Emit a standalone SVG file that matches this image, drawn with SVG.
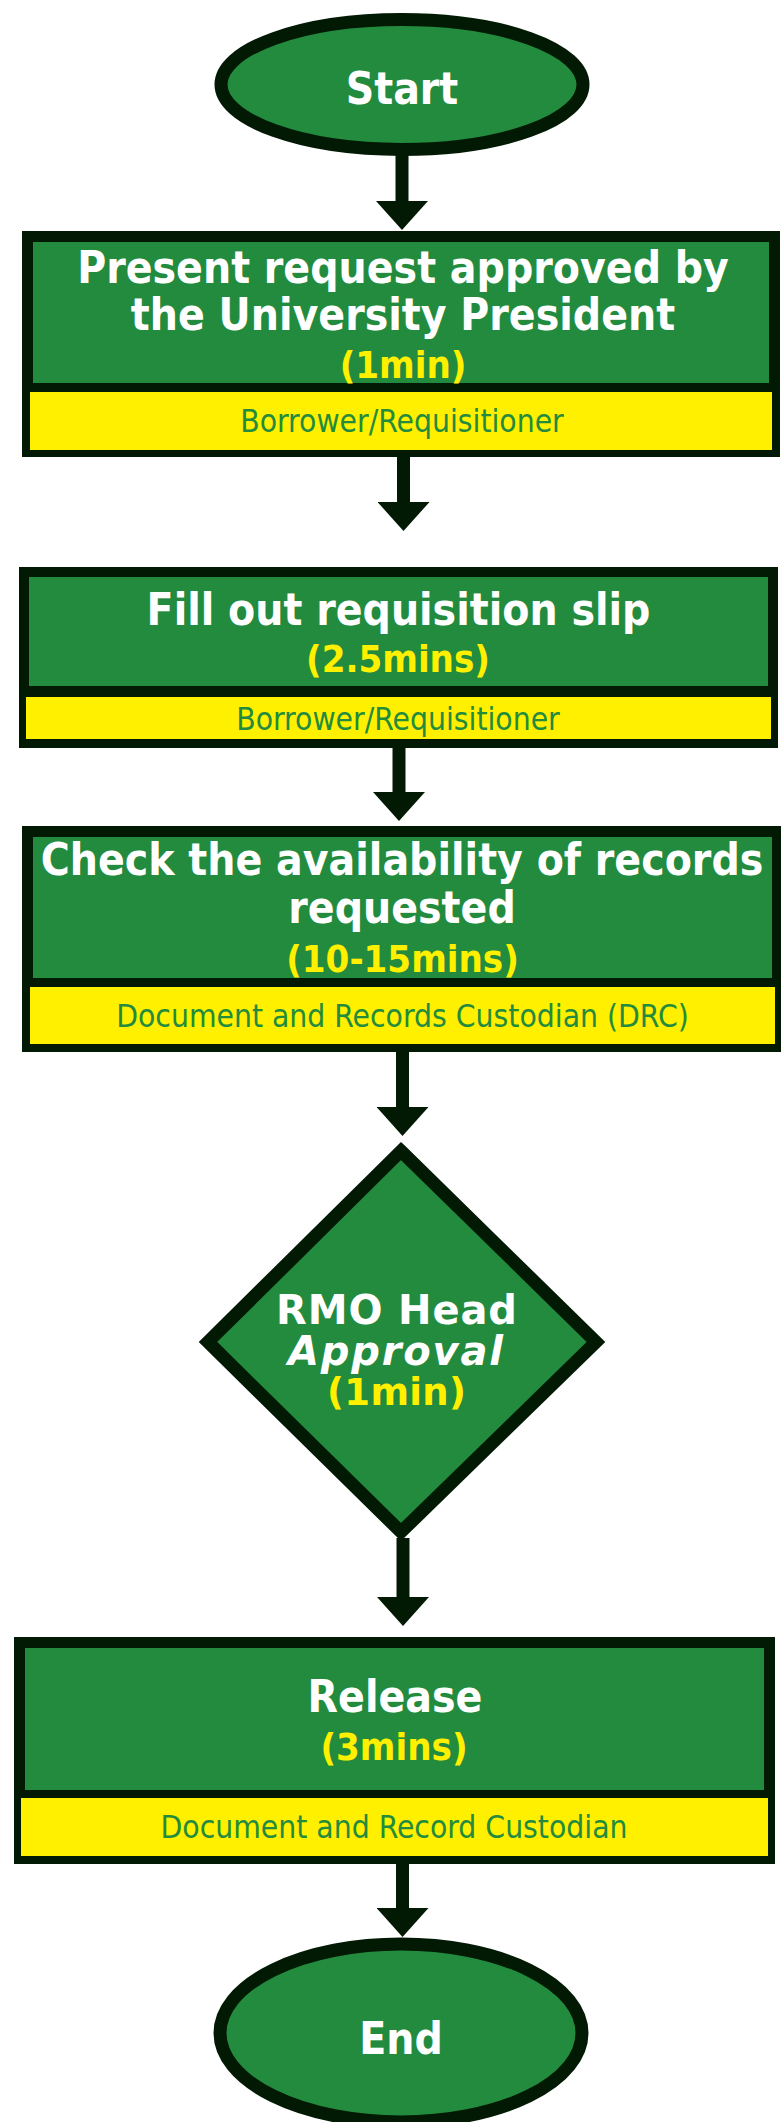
<svg xmlns="http://www.w3.org/2000/svg" width="781" height="2122" viewBox="0 0 781 2122">
<style>
.dark{fill:#021A04}
.grn{fill:#238B3E}
.yel{fill:#FFF000}
.term{fill:#238B3E;stroke:#021A04;stroke-width:13}
.dia{fill:#238B3E;stroke:#021A04;stroke-width:13;stroke-linejoin:miter}
.title{font-family:"DejaVu Sans Condensed","DejaVu Sans",sans-serif;font-stretch:condensed;font-weight:bold;font-size:44px;fill:#FFFFFF;text-anchor:middle}
.time{font-family:"DejaVu Sans Condensed","DejaVu Sans",sans-serif;font-stretch:condensed;font-weight:bold;font-size:38px;fill:#FFF000;text-anchor:middle}
.role{font-family:"DejaVu Sans Condensed","DejaVu Sans",sans-serif;font-stretch:condensed;font-size:31.5px;fill:#238B3E;text-anchor:middle}
.dt{font-family:"DejaVu Sans",sans-serif;font-weight:bold;font-size:40px;fill:#FFFFFF;text-anchor:middle}
.dty{font-family:"DejaVu Sans",sans-serif;font-weight:bold;font-size:37px;fill:#FFF000;text-anchor:middle}
.conn{stroke:#021A04;stroke-width:13;fill:none}
</style>
<defs>
<marker id="ah" viewBox="0 -26 29 52" refX="0" refY="0" markerWidth="29" markerHeight="52" markerUnits="userSpaceOnUse" orient="auto">
<path d="M0,-26 L29,0 L0,26 Z" fill="#021A04"/>
</marker>
</defs>

<g id="connectors">
<path class="conn" d="M402,150 V201" marker-end="url(#ah)"/>
<path class="conn" d="M403.5,455 V502" marker-end="url(#ah)"/>
<path class="conn" d="M399,746 V792" marker-end="url(#ah)"/>
<path class="conn" d="M402.5,1050 V1107" marker-end="url(#ah)"/>
<path class="conn" d="M403,1538 V1597" marker-end="url(#ah)"/>
<path class="conn" d="M402.5,1862 V1908" marker-end="url(#ah)"/>
</g>

<g id="start">
<ellipse class="term" cx="402" cy="84.5" rx="181" ry="65"/>
<text class="title" x="402" y="104">Start</text>
</g>

<g id="step1">
<rect class="dark" x="22" y="231" width="758" height="226"/>
<rect class="grn" x="33" y="242" width="736" height="141"/>
<rect class="yel" x="30" y="392" width="742" height="58"/>
<text class="title" x="403" y="283">Present request approved by</text>
<text class="title" x="403" y="330">the University President</text>
<text class="time" x="403" y="378">(1min)</text>
<text class="role" x="402" y="432">Borrower/Requisitioner</text>
</g>

<g id="step2">
<rect class="dark" x="19" y="567" width="759" height="181"/>
<rect class="grn" x="29" y="577" width="739" height="109"/>
<rect class="yel" x="26" y="697" width="745" height="42"/>
<text class="title" x="398.5" y="625">Fill out requisition slip</text>
<text class="time" x="398" y="672">(2.5mins)</text>
<text class="role" x="398" y="730">Borrower/Requisitioner</text>
</g>

<g id="step3">
<rect class="dark" x="22" y="826" width="759" height="226"/>
<rect class="grn" x="33" y="837" width="739" height="141"/>
<rect class="yel" x="30" y="987" width="745" height="57"/>
<text class="title" x="402" y="875">Check the availability of records</text>
<text class="title" x="402" y="923">requested</text>
<text class="time" x="402.5" y="972">(10-15mins)</text>
<text class="role" x="402.5" y="1027">Document and Records Custodian (DRC)</text>
</g>

<g id="decision">
<polygon class="dia" points="401,1151 596,1342 401,1532 208,1342"/>
<text class="dt" x="396.5" y="1324" textLength="241" lengthAdjust="spacing">RMO Head</text>
<text class="dt" x="395.5" y="1365" font-style="italic" textLength="215" lengthAdjust="spacing">Approval</text>
<text class="dty" x="396.5" y="1405" textLength="139" lengthAdjust="spacing">(1min)</text>
</g>

<g id="step4">
<rect class="dark" x="14" y="1637" width="761" height="227"/>
<rect class="grn" x="25" y="1648" width="739" height="142"/>
<rect class="yel" x="21" y="1798" width="747" height="58"/>
<text class="title" x="395" y="1712">Release</text>
<text class="time" x="394" y="1760">(3mins)</text>
<text class="role" x="394" y="1838">Document and Record Custodian</text>
</g>

<g id="end">
<ellipse class="term" cx="401" cy="2033" rx="181" ry="89"/>
<text class="title" x="401" y="2054">End</text>
</g>
</svg>
